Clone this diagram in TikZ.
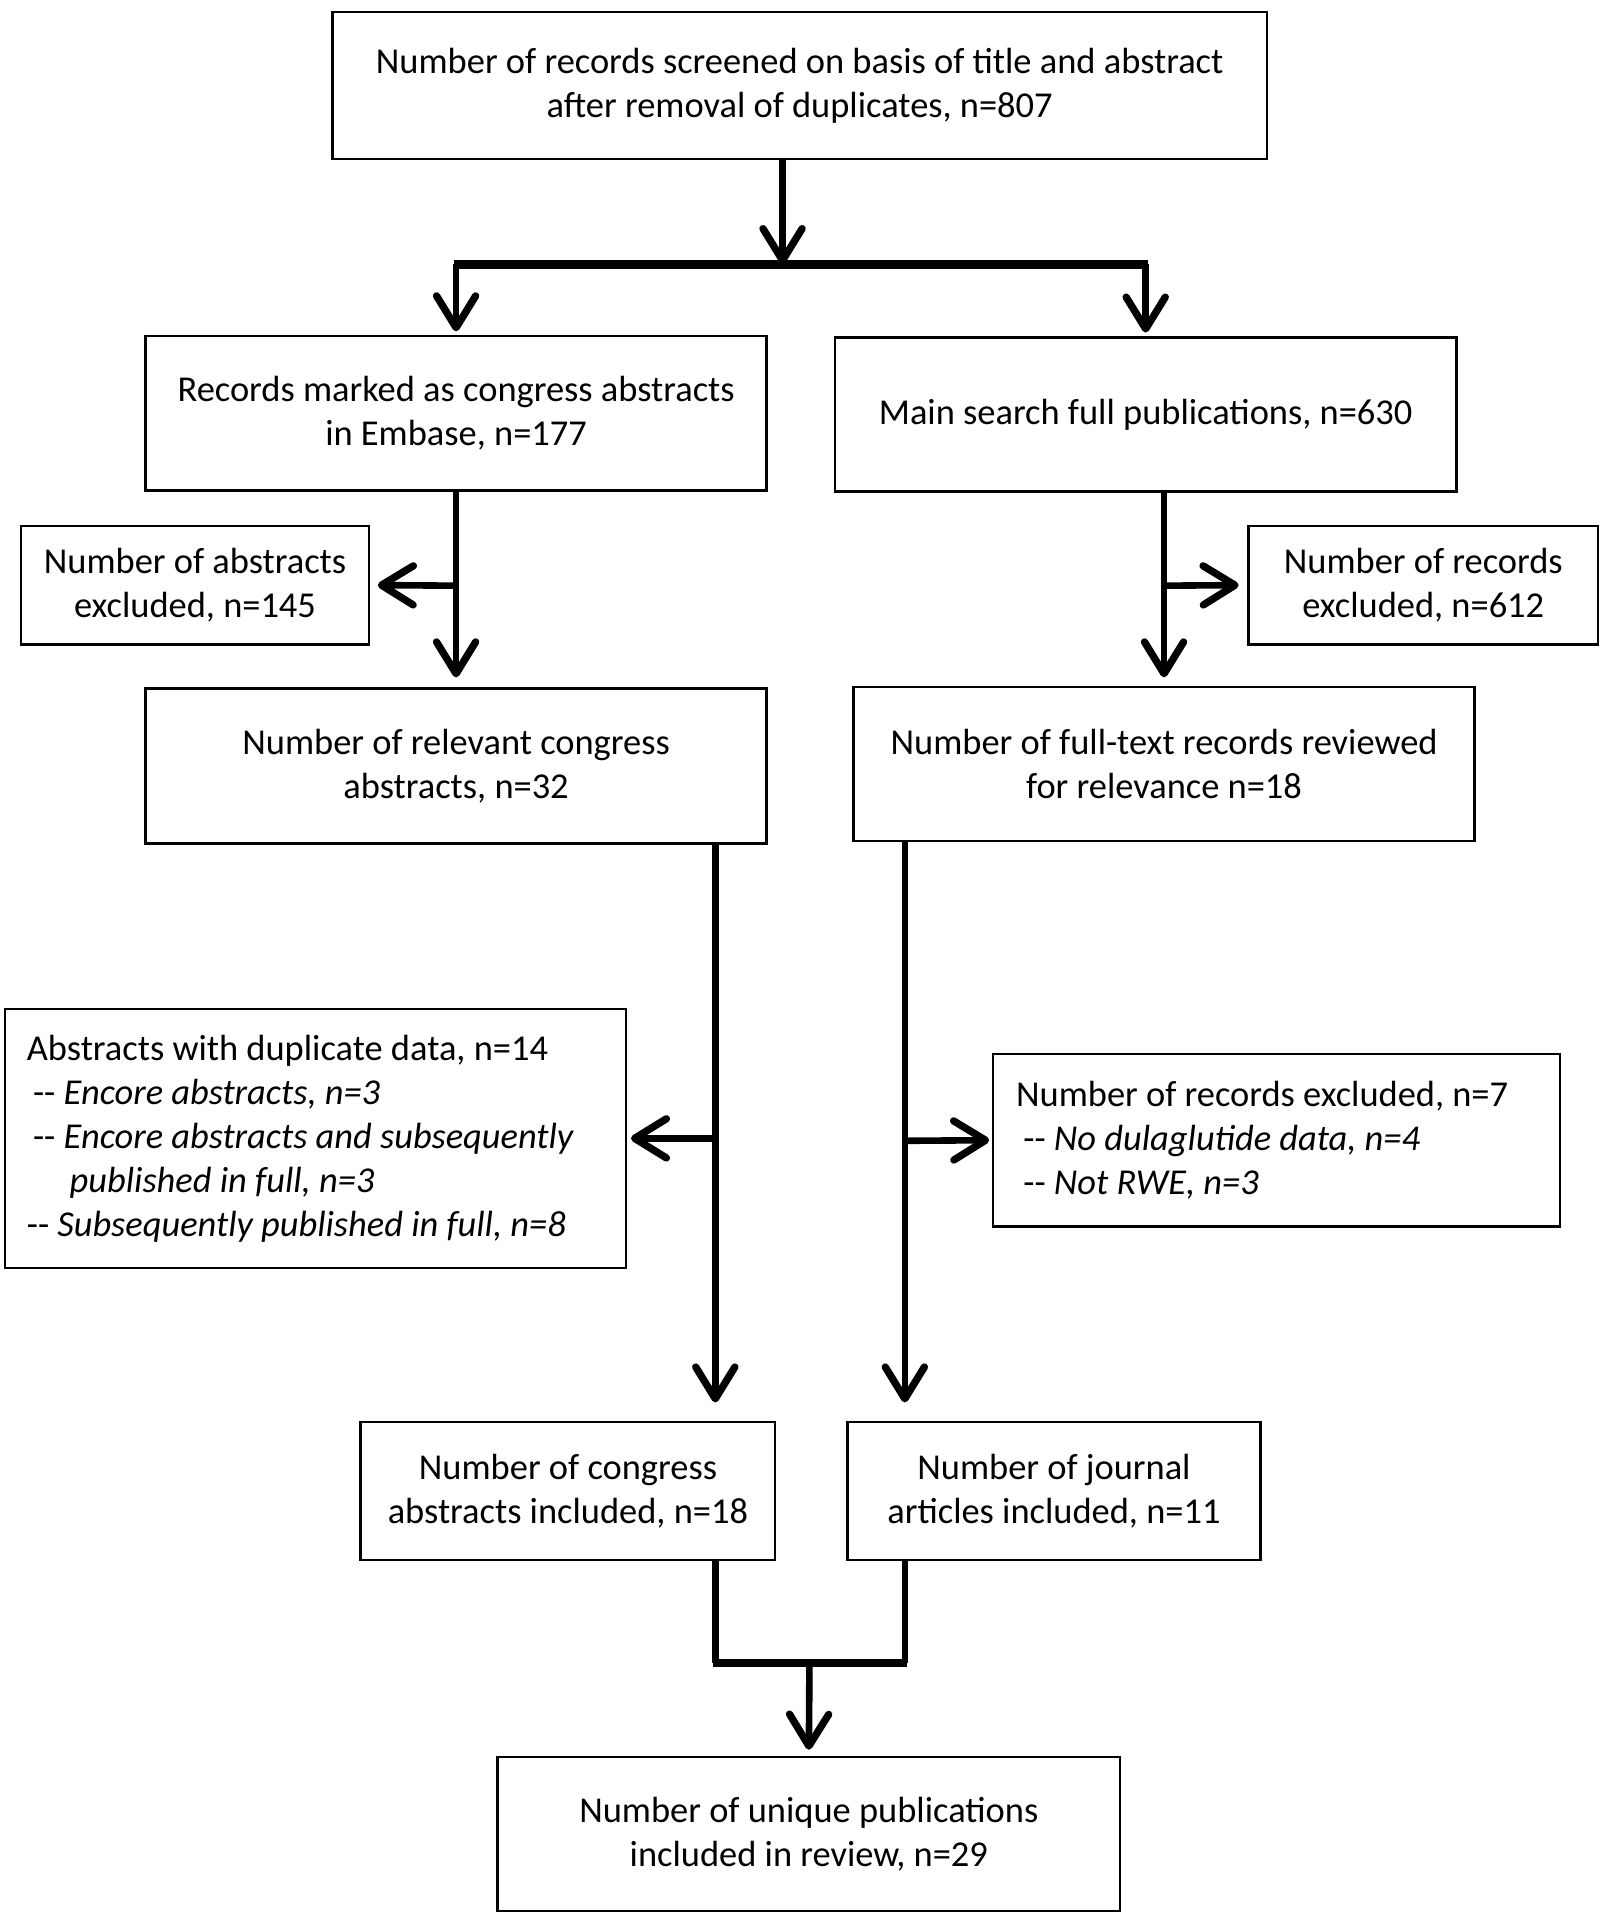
\documentclass[tikz,border=0pt]{standalone}
\usepackage{fontspec}
\setmainfont{Carlito}
\usetikzlibrary{arrows.meta,calc}
\begin{document}
\begin{tikzpicture}[x=0.5pt,y=-0.5pt,
  box/.style={draw, line width=1pt, align=center, inner sep=0pt,
    font=\fontsize{14.9}{18}\selectfont},
  conn/.style={line width=2.7pt},
  arr/.style={conn, -{Straight Barb[length=13pt,width=16pt,round,line width=3pt]}},
  bar/.style={line width=3.6pt}]
\useasboundingbox (0,0) rectangle (1310,1567);

\node[box, minimum width=382pt, minimum height=60pt] (top) at (654,70)
  {Number of records screened on basis of title and abstract\\after removal of duplicates, n=807};
\node[box, minimum width=254pt, minimum height=63pt] (cong) at (373,338)
  {Records marked as congress abstracts\\in Embase, n=177};
\node[box, minimum width=254pt, minimum height=63pt] (main) at (937,339)
  {Main search full publications, n=630};
\node[box, minimum width=142.5pt, minimum height=48.5pt] (absx) at (159.5,478.5)
  {Number of abstracts\\excluded, n=145};
\node[box, minimum width=143pt, minimum height=48.5pt] (recx) at (1164,478.5)
  {Number of records\\excluded, n=612};
\node[box, minimum width=254pt, minimum height=63.5pt] (rel) at (373,626.5)
  {Number of relevant congress\\abstracts, n=32};
\node[box, minimum width=254pt, minimum height=63pt] (full) at (952,625)
  {Number of full-text records reviewed\\for relevance n=18};
\node[box, minimum width=254pt, minimum height=106pt, align=flush left, text width=236pt] (dup) at (258,931)
  {Abstracts with duplicate data, n=14\\
   \hspace*{2.5pt}-{}- \textit{Encore abstracts, n=3}\\
   \hspace*{2.5pt}-{}- \textit{Encore abstracts and subsequently}\\
   \hspace*{17.5pt}\textit{published in full, n=3}\\
   -{}- \textit{Subsequently published in full, n=8}};
\node[box, minimum width=232pt, minimum height=70.5pt, align=flush left, text width=213pt] (ex7) at (1044,932.5)
  {Number of records excluded, n=7\\
   \hspace*{3pt}-{}- \textit{No dulaglutide data, n=4}\\
   \hspace*{3pt}-{}- \textit{Not RWE, n=3}};
\node[box, minimum width=169.5pt, minimum height=56.5pt] (cinc) at (464.5,1219.5)
  {Number of congress\\abstracts included, n=18};
\node[box, minimum width=169pt, minimum height=56.5pt] (jinc) at (862,1219.5)
  {Number of journal\\articles included, n=11};
\node[box, minimum width=254.5pt, minimum height=63pt] (uniq) at (661.5,1500)
  {Number of unique publications\\included in review, n=29};

% junctions
\coordinate (j1) at (640,216);
\coordinate (bl) at (373,216);
\coordinate (br) at (937,216);
\coordinate (c1) at (373,479);
\coordinate (c2) at (952,479);
\coordinate (xl) at (585,931);
\coordinate (xr) at (740,933);
\coordinate (bb) at (662,1360);

\draw[arr] (j1 |- top.south) -- (j1);
\draw[bar] ([xshift=-1pt]bl) -- ([xshift=1pt]br);
\draw[arr, shorten >=1.5pt] (bl) -- (cong.north);
\draw[arr, shorten >=1.5pt] (br) -- (main.north);

\draw[arr, shorten >=4pt] (cong.south) -- (rel.north);
\draw[arr, shorten >=3pt] (c1) -- (absx.east);
\draw[arr, shorten >=3.5pt] (full.north |- main.south) -- (full.north);
\draw[arr, shorten >=3.5pt] (c2) -- (recx.west);

\draw[arr, shorten >=7.5pt] (xl |- rel.south) -- (xl |- cinc.north);
\draw[arr, shorten >=1.5pt] (xl) -- (dup.east);
\draw[arr, shorten >=7.5pt] (xr |- full.south) -- (xr |- jinc.north);
\draw[arr, shorten >=1pt] (xr) -- (ex7.west);

\draw[conn] (xl |- cinc.south) -- (xl |- bb);
\draw[conn] (xr |- jinc.south) -- (xr |- bb);
\draw[bar] ([xshift=-1pt]xl |- bb) -- ([xshift=1pt]xr |- bb);
\draw[arr, shorten >=2.5pt] (bb) -- (uniq.north);
\end{tikzpicture}
\end{document}
